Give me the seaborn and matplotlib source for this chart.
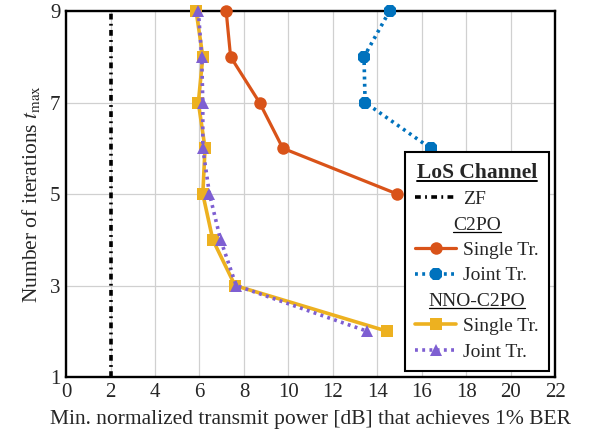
import matplotlib
matplotlib.use("Agg")
import matplotlib.pyplot as plt
import seaborn as sns
from matplotlib.lines import Line2D

# values
c2po_single_iter = [9, 8, 7, 6, 5]
c2po_single_pwr = [7.2, 7.4, 8.7, 9.75, 14.9]

c2po_joint_iter = [9, 8, 7, 6]
c2po_joint_pwr = [14.55, 13.4, 13.45, 16.4]

nno_single_iter = [9, 8, 7, 6, 5, 4, 3, 2]
nno_single_pwr = [5.85, 6.15, 5.95, 6.25, 6.15, 6.6, 7.6, 14.45]

nno_joint_iter = [9, 8, 7, 6, 5, 4, 3, 2]
nno_joint_pwr = [5.95, 6.1, 6.15, 6.15, 6.45, 6.95, 7.65, 13.55]

zf_pwr = 2.0

x_ticks = list(range(0, 23, 2))
y_ticks = [1, 3, 5, 7, 9]

sns.set_style("white")
plt.rcParams["font.family"] = ["Liberation Serif", "DejaVu Serif"]
plt.rcParams["mathtext.fontset"] = "stix"

orange = "#D95319"
blue = "#0072BD"
yellow = "#EDB120"
purple = "#7E5FD2"
zf_ls = (0, (1.6, 1.2, 0.5, 1.2))
dot_ls = (0, (0.8, 1.2))

fig, ax = plt.subplots(figsize=(5.9, 4.41), dpi=100)
fig.subplots_adjust(left=0.112, right=0.941, bottom=0.145, top=0.975)

ax.axvline(zf_pwr, color="black", lw=2.6, ls=zf_ls, zorder=3)

sns.lineplot(x=c2po_single_pwr, y=c2po_single_iter, sort=False, estimator=None,
             color=orange, lw=2.3, marker="o", markersize=9, markeredgewidth=0,
             clip_on=False, ax=ax, zorder=7)
sns.lineplot(x=c2po_joint_pwr, y=c2po_joint_iter, sort=False, estimator=None,
             color=blue, lw=2.6, ls=dot_ls, marker="8", markersize=10,
             markeredgewidth=0, clip_on=False, ax=ax, zorder=7)
sns.lineplot(x=nno_single_pwr, y=nno_single_iter, sort=False, estimator=None,
             color=yellow, lw=2.6, marker="s", markersize=8, markeredgewidth=0,
             clip_on=False, ax=ax, zorder=7)
sns.lineplot(x=nno_joint_pwr, y=nno_joint_iter, sort=False, estimator=None,
             color=purple, lw=2.6, ls=dot_ls, marker="^", markersize=9,
             markeredgewidth=0, clip_on=False, ax=ax, zorder=8)

ax.set_xlim(0, 22)
ax.set_ylim(1, 9)
ax.set_xticks(x_ticks)
ax.set_yticks(y_ticks)
ax.grid(True, color="#d0d0d0", lw=0.9)
ax.set_axisbelow(True)
ax.tick_params(direction="in", length=3, color="#b0b0b0", labelsize=15, pad=4)
for s in ax.spines.values():
    s.set_color("black")
    s.set_linewidth(1.7)
    s.set_zorder(6)

ax.set_xlabel("Min. normalized transmit power [dB] that achieves 1% BER",
              fontsize=15.5, labelpad=6)
ax.set_ylabel(r"Number of iterations $t_{\max}$", fontsize=15.5, labelpad=6)

blank = Line2D([], [], color="none")
handles = [
    Line2D([], [], color="black", lw=2.6, ls=zf_ls),
    blank,
    Line2D([], [], color=orange, lw=2.3, marker="o", markersize=9, mew=0),
    Line2D([], [], color=blue, lw=2.6, ls=dot_ls, marker="8", markersize=10, mew=0),
    blank,
    Line2D([], [], color=yellow, lw=2.6, marker="s", markersize=8, mew=0),
    Line2D([], [], color=purple, lw=2.6, ls=dot_ls, marker="^", markersize=9, mew=0),
]
labels = ["ZF", " ", "Single Tr.", "Joint Tr.", " ", "Single Tr.", "Joint Tr."]
headers = {1: "C2PO", 4: "NNO-C2PO"}

leg = ax.legend(handles, labels, loc="lower right", fontsize=14,
                title="LoS Channel",
                title_fontproperties={"size": 15.5, "weight": "bold"},
                frameon=True, fancybox=False, framealpha=1, edgecolor="black",
                borderaxespad=0.3, handlelength=2.1, handletextpad=0.35,
                labelspacing=0.4, borderpad=0.55)
leg.get_frame().set_linewidth(1.5)
leg.set_zorder(10)

# section headers centred in the legend box, underlined
fig.canvas.draw()
renderer = fig.canvas.get_renderer()
inv = fig.transFigure.inverted()
box = leg.get_window_extent(renderer)
cx = (box.x0 + box.x1) / 2
texts = leg.get_texts()
for i, name in headers.items():
    tb = texts[i].get_window_extent(renderer)
    fx, fy = inv.transform((cx, tb.y0))
    fig.text(fx, fy, name, fontsize=14, ha="center", va="bottom", zorder=12)

fig.canvas.draw()
under = [(leg.get_title(), 1.4)] + [(t, 0.9) for t in fig.texts]
for t, lw in under:
    tb = t.get_window_extent(renderer)
    yline = tb.y0 + 2
    (fx0, fy), (fx1, _) = inv.transform([(tb.x0, yline), (tb.x1, yline)])
    fig.add_artist(Line2D([fx0, fx1], [fy, fy], color="black", lw=lw,
                          transform=fig.transFigure, zorder=12))

fig.savefig("out.png", dpi=100)
